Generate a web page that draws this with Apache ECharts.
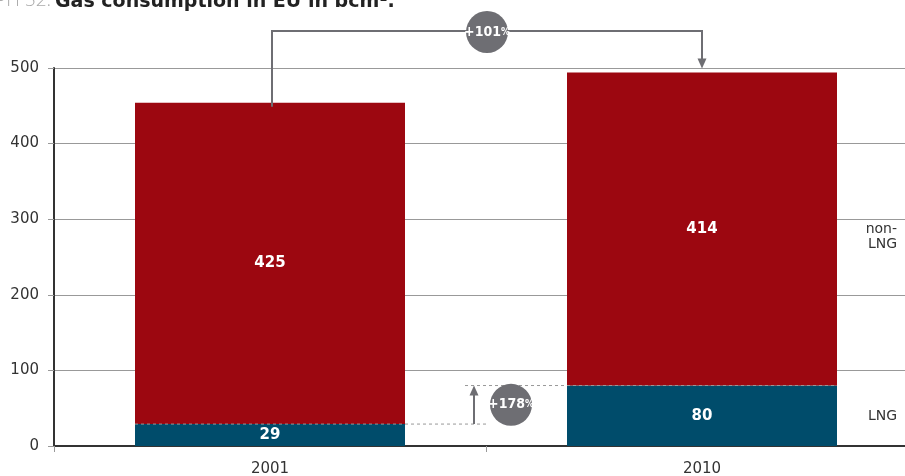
<!DOCTYPE html>
<html><head><meta charset="utf-8">
<script src="https://cdn.jsdelivr.net/npm/echarts@6/dist/echarts.min.js"></script>
<style>html,body{margin:0;padding:0;background:#fff}#c{width:905px;height:476px}</style>
</head><body><div id="c"></div>
<script>
const categories = ['2001', '2010'];
const lngValues = [29, 80];
const nonLngValues = [425, 414];
const yTicks = [0, 100, 200, 300, 400, 500];
const growthTotal = '+101';
const growthLng = '+178';

const RED = '#9C0710', BLUE = '#004C6B', GREY = '#6e6e73';
const COND = '"DejaVu Sans Condensed", "DejaVu Sans", sans-serif';
const chart = echarts.init(document.getElementById('c'));
const labelStyle = {show: true, position: 'inside', color: '#fff', fontWeight: 'bold', fontSize: 15, fontFamily: 'DejaVu Sans'};
chart.setOption({
  animation: false,
  grid: {left: 54, width: 864, top: 68, bottom: 30, containLabel: false, outerBoundsMode: 'none'},
  xAxis: {
    type: 'category', data: categories,
    axisLine: {lineStyle: {color: '#333', width: 2}},
    axisTick: {show: true, length: 6, lineStyle: {color: '#999'}},
    axisLabel: {color: '#333', fontSize: 15, fontFamily: 'DejaVu Sans', margin: 16}
  },
  yAxis: {
    type: 'value', min: 0, max: 500, interval: 100,
    axisLine: {show: true, lineStyle: {color: '#333', width: 2}},
    axisTick: {show: true, length: 6, lineStyle: {color: '#999'}},
    splitLine: {lineStyle: {color: '#999', width: 1}},
    axisLabel: {color: '#333', fontSize: 15, fontFamily: 'DejaVu Sans', margin: 15,
      formatter: v => yTicks.includes(v) ? String(v) : ''}
  },
  series: [
    {name: 'LNG', type: 'bar', stack: 't', data: lngValues, barWidth: '62.5%', itemStyle: {color: BLUE}, label: labelStyle},
    {name: 'non-LNG', type: 'bar', stack: 't', data: nonLngValues, itemStyle: {color: RED}, label: labelStyle}
  ]
});

const P = (c, v) => chart.convertToPixel({xAxisIndex: 0, yAxisIndex: 0}, [c, v]);
const band = P(1, 0)[0] - P(0, 0)[0];
const half = band * 0.625 / 2;
const x0 = P(0, 0)[0], x1 = P(1, 0)[0];
const mid = (x0 + x1) / 2;
const yL0 = P(0, lngValues[0])[1], yL1 = P(1, lngValues[1])[1];
const top0 = P(0, lngValues[0] + nonLngValues[0])[1];
const top1 = P(1, lngValues[1] + nonLngValues[1])[1];
const yBr = 31;
const els = [];
const circText = (cx, cy, t) => ({type: 'text', x: cx, y: cy, z: 11, style: {
  text: '{a|' + t + '}{b|%}', textAlign: 'center', textVerticalAlign: 'middle',
  rich: {a: {fill: '#fff', font: 'bold 14px ' + COND}, b: {fill: '#fff', font: 'bold 10px ' + COND}}}});
// title
els.push({type: 'text', x: 51, y: -9, style: {text: 'GRAPH 52:', fill: '#aaa', font: '300 19px "Open Sans"', textAlign: 'right'}});
els.push({type: 'text', x: 55, y: -7, style: {text: 'Gas consumption in EU in bcm\u00b9.', fill: '#222', font: 'bold 19px "DejaVu Sans"'}});
// dashed lines
els.push({type: 'line', shape: {x1: x0 - half, y1: yL0, x2: mid + 1, y2: yL0}, style: {stroke: '#999', lineDash: [3, 3], lineWidth: 1}, z: 10});
els.push({type: 'line', shape: {x1: mid - 21, y1: yL1, x2: x1 + half, y2: yL1}, style: {stroke: '#999', lineDash: [3, 3], lineWidth: 1}, z: 10});
// LNG arrow
const ax = mid - 12;
els.push({type: 'line', shape: {x1: ax, y1: yL0, x2: ax, y2: yL1 + 8}, style: {stroke: GREY, lineWidth: 2}, z: 10});
els.push({type: 'polygon', shape: {points: [[ax - 4.5, yL1 + 10], [ax + 4.5, yL1 + 10], [ax, yL1]]}, style: {fill: GREY}, z: 10});
els.push({type: 'circle', shape: {cx: mid + 25, cy: (yL0 + yL1) / 2, r: 21}, style: {fill: GREY}, z: 10});
els.push(circText(mid + 25, (yL0 + yL1) / 2, growthLng));
// total bracket
els.push({type: 'polyline', shape: {points: [[x0 + 2, top0 + 4], [x0 + 2, yBr], [x1, yBr], [x1, top1 - 12]]}, style: {stroke: GREY, lineWidth: 2, fill: null}, z: 10});
els.push({type: 'polygon', shape: {points: [[x1 - 4.5, top1 - 14], [x1 + 4.5, top1 - 14], [x1, top1 - 4]]}, style: {fill: GREY}, z: 10});
els.push({type: 'circle', shape: {cx: mid + 1, cy: yBr + 1, r: 21}, style: {fill: GREY}, z: 10});
els.push(circText(mid + 1, yBr + 1, growthTotal));
// series names on the right
els.push({type: 'text', x: 897, y: 222, style: {text: 'non-\nLNG', fill: '#333', font: '14px "DejaVu Sans"', textAlign: 'right', lineHeight: 15}});
els.push({type: 'text', x: 897, y: 409, style: {text: 'LNG', fill: '#333', font: '14px "DejaVu Sans"', textAlign: 'right'}});
chart.setOption({graphic: {elements: els}});
</script>
</body></html>
